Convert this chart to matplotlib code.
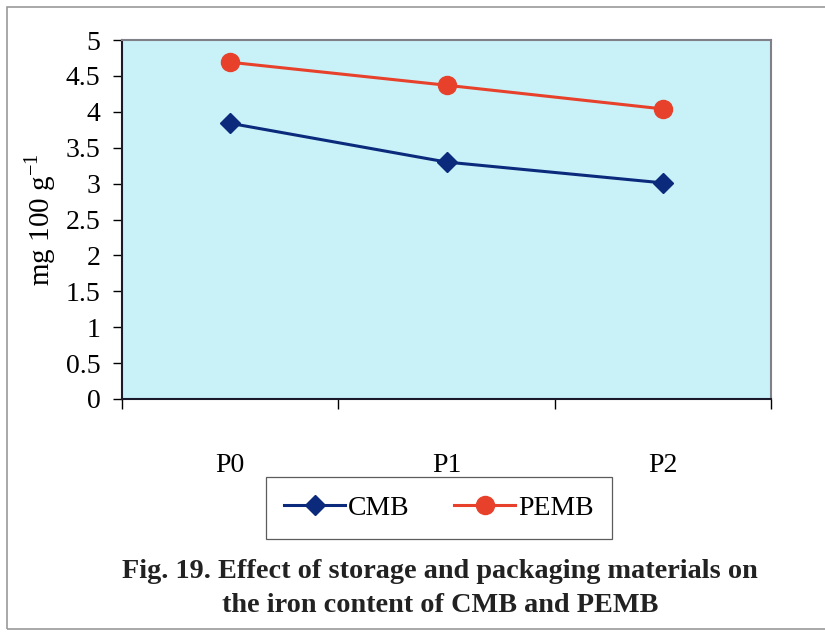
import matplotlib
matplotlib.use('Agg')
from matplotlib import pyplot as plt
from matplotlib.patches import Rectangle
from matplotlib.ticker import FixedLocator, NullFormatter

plt.rcParams['font.family'] = ['Liberation Serif', 'DejaVu Serif']
plt.rcParams['mathtext.fontset'] = 'custom'
plt.rcParams['mathtext.rm'] = 'Liberation Serif'

periods = ['P0', 'P1', 'P2']
cmb = [3.84, 3.30, 3.01]
pemb = [4.69, 4.37, 4.04]
yticks = [0, 0.5, 1, 1.5, 2, 2.5, 3, 3.5, 4, 4.5, 5]

fig = plt.figure(figsize=(8.25, 6.34), dpi=100)
fig.patch.set_facecolor('white')
# thin frame around the whole figure
fig.add_artist(Rectangle((7/825, 5/634), 1.2, 1 - 12/634, transform=fig.transFigure,
                         fill=False, edgecolor='#9a9a9a', linewidth=1.2))

ax = fig.add_axes([122/825, 1 - 399/634, 649/825, 359/634])
ax.set_facecolor('#C8F1F8')

x = range(len(periods))
ax.plot(x, cmb, color='#0B2A7C', linewidth=2.2, marker='D', markersize=10, label='CMB')
ax.plot(x, pemb, color='#E8412B', linewidth=2.2, marker='o', markersize=13, label='PEMB')

ax.set_xlim(-0.5, 2.5)
ax.set_ylim(0, 5)
ax.set_yticks(yticks)
ax.set_yticklabels(['0', '0.5', '1', '1.5', '2', '2.5', '3', '3.5', '4', '4.5', '5'])
ax.tick_params(axis='y', direction='out', length=6.5, width=1, labelsize=20, pad=9)

# category separators as major ticks, labels on minor ticks
ax.xaxis.set_major_locator(FixedLocator([-0.5, 0.5, 1.5, 2.5]))
ax.xaxis.set_major_formatter(NullFormatter())
ax.xaxis.set_minor_locator(FixedLocator(list(x)))
ax.set_xticklabels(periods, minor=True)
ax.tick_params(axis='x', which='major', direction='out', length=7, width=1)
ax.tick_params(axis='x', which='minor', length=0, labelsize=20, pad=39)

for side in ['top', 'right']:
    ax.spines[side].set_color('#808088')
    ax.spines[side].set_linewidth(1.5)
for side in ['left', 'bottom']:
    ax.spines[side].set_color('#1a1a2a')
    ax.spines[side].set_linewidth(1.5)

ax.set_ylabel(r'mg 100 g$^{\mathregular{-1}}$', fontsize=21)
ax.yaxis.set_label_coords(-0.098, 0.5)

leg = fig.legend(loc='center', bbox_to_anchor=(439/825, 1 - 508/634), ncol=2,
                 fontsize=20, frameon=True, fancybox=False, handlelength=2.2,
                 columnspacing=1.6, handletextpad=0.1, borderpad=0.65)
leg.get_frame().set_edgecolor('#333333')
leg.get_frame().set_linewidth(0.9)

fig.text(440/825, 1 - 571/634, 'Fig. 19. Effect of storage and packaging materials on',
         ha='center', va='center', fontsize=20.3, fontweight='bold', color='#222222')
fig.text(440/825, 1 - 605/634, 'the iron content of CMB and PEMB',
         ha='center', va='center', fontsize=20.3, fontweight='bold', color='#222222')

fig.savefig('out.png', dpi=100)
